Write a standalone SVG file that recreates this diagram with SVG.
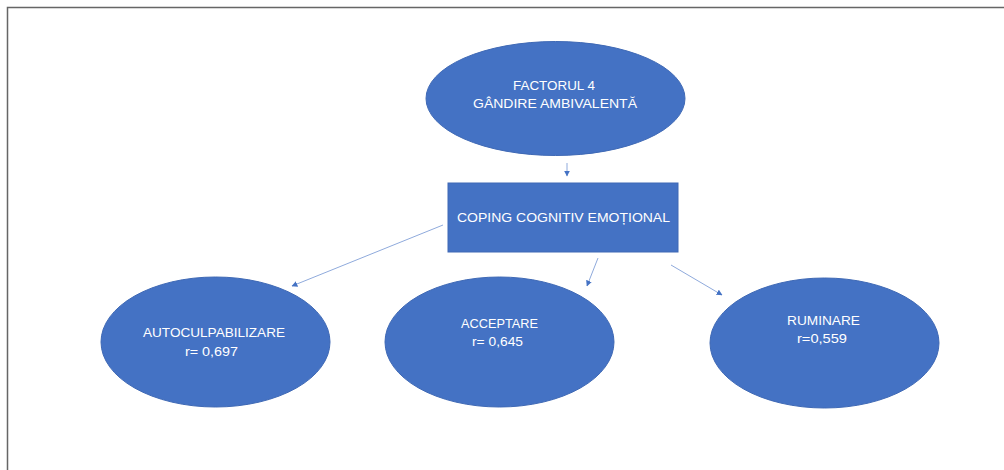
<svg xmlns="http://www.w3.org/2000/svg" width="1004" height="470" viewBox="0 0 1004 470">
  <style>
    .node { fill: #4472C4; stroke: #3F69B5; stroke-width: 1; }
    .label { fill: #FFFFFF; font-family: "Liberation Sans", Arial, sans-serif; font-size: 13.5px; text-anchor: middle; }
    .link { stroke: #8FAADC; stroke-width: 1; fill: none; marker-end: url(#head); }
    .frame { stroke: #666666; stroke-width: 1.5; fill: none; }
  </style>
  <defs>
    <marker id="head" viewBox="0 0 10 10" refX="9" refY="5" markerWidth="6" markerHeight="6" markerUnits="userSpaceOnUse" orient="auto">
      <path d="M0,0 L10,5 L0,10 Z" fill="#4472C4"/>
    </marker>
  </defs>

  <rect width="1004" height="470" fill="#FFFFFF"/>
  <!-- page frame: top and left edges -->
  <path class="frame" d="M7.5,470 V7.5 H1004"/>

  <g id="connectors">
    <line class="link" x1="567" y1="163" x2="567" y2="176"/>
    <line class="link" x1="443" y1="225" x2="292" y2="286"/>
    <line class="link" x1="598" y1="258" x2="587" y2="286"/>
    <line class="link" x1="671" y1="265" x2="722" y2="295"/>
  </g>

  <g id="factor4">
    <ellipse class="node" cx="555.5" cy="98.5" rx="129.5" ry="57"/>
    <text class="label" x="554" y="90" textLength="82" lengthAdjust="spacingAndGlyphs">FACTORUL 4</text>
    <text class="label" x="555" y="108" textLength="164" lengthAdjust="spacingAndGlyphs">GÂNDIRE AMBIVALENTĂ</text>
  </g>

  <g id="coping">
    <rect class="node" x="448" y="183" width="230" height="69"/>
    <text class="label" x="563.5" y="222" textLength="213" lengthAdjust="spacingAndGlyphs">COPING COGNITIV EMOȚIONAL</text>
  </g>

  <g id="autoculpabilizare">
    <ellipse class="node" cx="215.5" cy="342" rx="114.5" ry="65"/>
    <text class="label" x="214" y="337" textLength="142" lengthAdjust="spacingAndGlyphs">AUTOCULPABILIZARE</text>
    <text class="label" x="211.5" y="356" textLength="53" lengthAdjust="spacingAndGlyphs">r= 0,697</text>
  </g>

  <g id="acceptare">
    <ellipse class="node" cx="499.5" cy="342" rx="114.5" ry="65"/>
    <text class="label" x="499.5" y="328" textLength="77" lengthAdjust="spacingAndGlyphs">ACCEPTARE</text>
    <text class="label" x="497.5" y="346" textLength="51" lengthAdjust="spacingAndGlyphs">r= 0,645</text>
  </g>

  <g id="ruminare">
    <ellipse class="node" cx="824.5" cy="343" rx="114.5" ry="65"/>
    <text class="label" x="823.5" y="325" textLength="73" lengthAdjust="spacingAndGlyphs">RUMINARE</text>
    <text class="label" x="822" y="343" textLength="50" lengthAdjust="spacingAndGlyphs">r=0,559</text>
  </g>
</svg>
